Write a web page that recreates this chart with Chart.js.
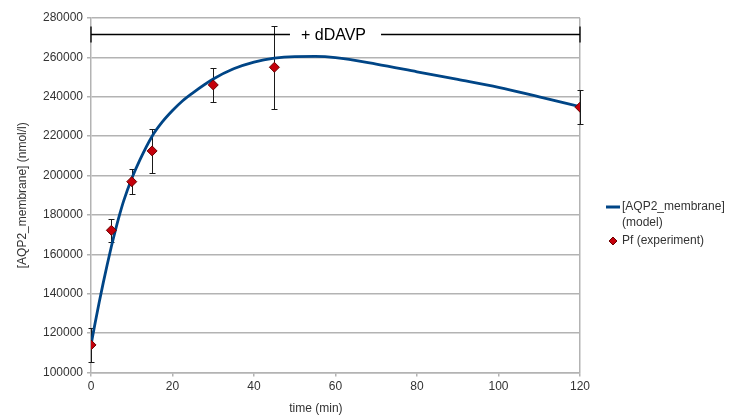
<!DOCTYPE html>
<html>
<head>
<meta charset="utf-8">
<script src="https://cdn.jsdelivr.net/npm/chart.js@4/dist/chart.umd.min.js"></script>
<style>
  html, body { margin: 0; padding: 0; background: #ffffff; }
  #wrap { position: relative; width: 734px; height: 416px; }
</style>
</head>
<body>
<div id="wrap"><canvas id="c" width="734" height="416"></canvas></div>
<script>
// ---- data ----
const modelTimes  = [0, 1, 2, 3, 4, 5, 6, 7, 8, 10, 12, 15, 17.5, 20, 22.5, 25, 30, 35, 40, 45, 50, 55, 60, 70, 80, 90, 100, 110, 120];
const modelValues = [114000, 125000, 135500, 145500, 155000, 164000, 172300, 180000, 187000, 198500, 208000, 220000, 227200, 233000, 238000, 242000, 249000, 254200, 257600, 259600, 260400, 260500, 259900, 256600, 252700, 248800, 244800, 240000, 235000];

const expTimes  = [0, 5, 10, 15, 30, 45, 120];
const expValues = [114000, 172200, 196900, 212500, 246000, 255000, 234700];
const expErrors = [8500, 5800, 6500, 11000, 8800, 21000, 8500];

const xTicks = [0, 20, 40, 60, 80, 100, 120];
const yTicks = [100000, 120000, 140000, 160000, 180000, 200000, 220000, 240000, 260000, 280000];

const treatmentLabel = "+ dDAVP";
const treatmentStart = 0;
const treatmentEnd = 120;
const treatmentLevel = 272000;

const seriesNames = [["[AQP2_membrane]", "(model)"], ["Pf (experiment)"]];
const xTitle = "time (min)";
const yTitle = "[AQP2_membrane] (nmol/l)";

// ---- styles ----
const BLUE = "#004586";
const RED = "#c5000b";
const RED_DARK = "#6b0000";
const GRID = "#b3b3b3";
const TEXT = "#333333";
const FONT = "'Liberation Sans', Arial, sans-serif";

const modelData = modelTimes.map((t, i) => ({ x: t, y: modelValues[i] }));
const expData = expTimes.map((t, i) => ({ x: t, y: expValues[i] }));

const errorBarPlugin = {
  id: "errorBars",
  beforeDatasetsDraw(chart) {
    const { ctx, scales: { x, y } } = chart;
    ctx.save();
    ctx.strokeStyle = "#1a1a1a";
    ctx.lineWidth = 1;
    const cap = 3;
    expTimes.forEach((t, i) => {
      const px = Math.round(x.getPixelForValue(t)) + 0.5;
      const top = Math.round(y.getPixelForValue(expValues[i] + expErrors[i])) + 0.5;
      const bot = Math.round(y.getPixelForValue(expValues[i] - expErrors[i])) + 0.5;
      ctx.beginPath();
      ctx.moveTo(px, top); ctx.lineTo(px, bot);
      ctx.moveTo(px - cap, top); ctx.lineTo(px + cap, top);
      ctx.moveTo(px - cap, bot); ctx.lineTo(px + cap, bot);
      ctx.stroke();
    });
    ctx.restore();
  }
};

const treatmentPlugin = {
  id: "treatment",
  afterDatasetsDraw(chart) {
    const { ctx, scales: { x, y } } = chart;
    const x0 = x.getPixelForValue(treatmentStart);
    const x1 = x.getPixelForValue(treatmentEnd);
    const py = Math.round(y.getPixelForValue(treatmentLevel)) + 0.5;
    const xm = x.getPixelForValue((treatmentStart + treatmentEnd) / 2);
    ctx.save();
    ctx.font = "16px " + FONT;
    const w = ctx.measureText(treatmentLabel).width;
    const gap = 13;
    ctx.strokeStyle = "#000000";
    ctx.lineWidth = 1.3;
    ctx.beginPath();
    ctx.moveTo(x0, py); ctx.lineTo(xm - w / 2 - gap, py);
    ctx.moveTo(xm + w / 2 + gap, py); ctx.lineTo(x1, py);
    ctx.moveTo(x0, py - 8); ctx.lineTo(x0, py + 8);
    ctx.moveTo(x1, py - 8); ctx.lineTo(x1, py + 8);
    ctx.stroke();
    ctx.fillStyle = "#000000";
    ctx.textAlign = "center";
    ctx.textBaseline = "middle";
    ctx.fillText(treatmentLabel, xm - 2, py + 1);
    ctx.restore();
  }
};

const legendPlugin = {
  id: "sideLegend",
  afterDraw(chart) {
    const { ctx, chartArea } = chart;
    const lx = chartArea.right + 26;
    ctx.save();
    ctx.font = "12px " + FONT;
    ctx.fillStyle = TEXT;
    ctx.textBaseline = "middle";
    ctx.textAlign = "left";
    // model
    ctx.strokeStyle = BLUE;
    ctx.lineWidth = 3;
    ctx.beginPath();
    ctx.moveTo(lx, 207); ctx.lineTo(lx + 14, 207);
    ctx.stroke();
    seriesNames[0].forEach((s, k) => ctx.fillText(s, lx + 16, 207 + k * 15.5));
    // experiment
    const dx = lx + 7, dy = 241, r = 4;
    ctx.beginPath();
    ctx.moveTo(dx, dy - r); ctx.lineTo(dx + r, dy); ctx.lineTo(dx, dy + r); ctx.lineTo(dx - r, dy); ctx.closePath();
    ctx.fillStyle = RED; ctx.fill();
    ctx.strokeStyle = RED_DARK; ctx.lineWidth = 1; ctx.stroke();
    ctx.fillStyle = TEXT;
    ctx.fillText(seriesNames[1][0], lx + 16, 241);
    // x-axis title (placed slightly left of the plot centre as in the reference)
    ctx.textAlign = "center";
    ctx.fillText(xTitle, chartArea.left + (chartArea.right - chartArea.left) * 0.46, 408.5);
    ctx.restore();
  }
};

new Chart(document.getElementById("c"), {
  type: "scatter",
  data: {
    datasets: [
      {
        label: "Pf (experiment)",
        data: expData,
        showLine: false,
        pointStyle: "rectRot",
        pointRadius: 5,
        pointBackgroundColor: RED,
        pointBorderColor: RED_DARK,
        pointBorderWidth: 1,
        order: 0
      },
      {
        label: "[AQP2_membrane] (model)",
        data: modelData,
        showLine: true,
        borderColor: BLUE,
        borderWidth: 2.8,
        pointRadius: 0,
        cubicInterpolationMode: "monotone",
        fill: false,
        order: 1
      }
    ]
  },
  options: {
    responsive: false,
    animation: false,
    devicePixelRatio: 1,
    layout: { padding: { left: 0, top: 18, right: 154, bottom: 0 } },
    plugins: { legend: { display: false }, tooltip: { enabled: false } },
    scales: {
      x: {
        type: "linear",
        min: xTicks[0],
        max: xTicks[xTicks.length - 1],
        afterBuildTicks: (s) => { s.ticks = xTicks.map(v => ({ value: v })); },
        afterFit: (s) => { s.height = 43.5; },
        grid: {
          color: (c) => (c.tick && c.tick.value === xTicks[xTicks.length - 1]) ? GRID : "rgba(0,0,0,0)",
          tickColor: GRID,
          tickLength: 4,
          lineWidth: 1.5
        },
        border: { display: true, color: GRID, width: 1.5 },
        ticks: { color: TEXT, font: { family: FONT, size: 12 }, padding: 3, maxRotation: 0 },
        title: { display: false, text: xTitle }
      },
      y: {
        type: "linear",
        min: yTicks[0],
        max: yTicks[yTicks.length - 1],
        afterBuildTicks: (s) => { s.ticks = yTicks.map(v => ({ value: v })); },
        afterFit: (s) => { s.width = 91; },
        grid: { color: GRID, tickColor: GRID, tickLength: 4, lineWidth: 1.5 },
        border: { display: true, color: GRID, width: 1.5 },
        ticks: { color: TEXT, font: { family: FONT, size: 12 }, padding: 4, callback: (v) => String(v) },
        title: { display: true, text: yTitle, color: TEXT, font: { family: FONT, size: 12 }, padding: { top: 15, bottom: 0 } }
      }
    }
  },
  plugins: [errorBarPlugin, treatmentPlugin, legendPlugin]
});
</script>
</body>
</html>
